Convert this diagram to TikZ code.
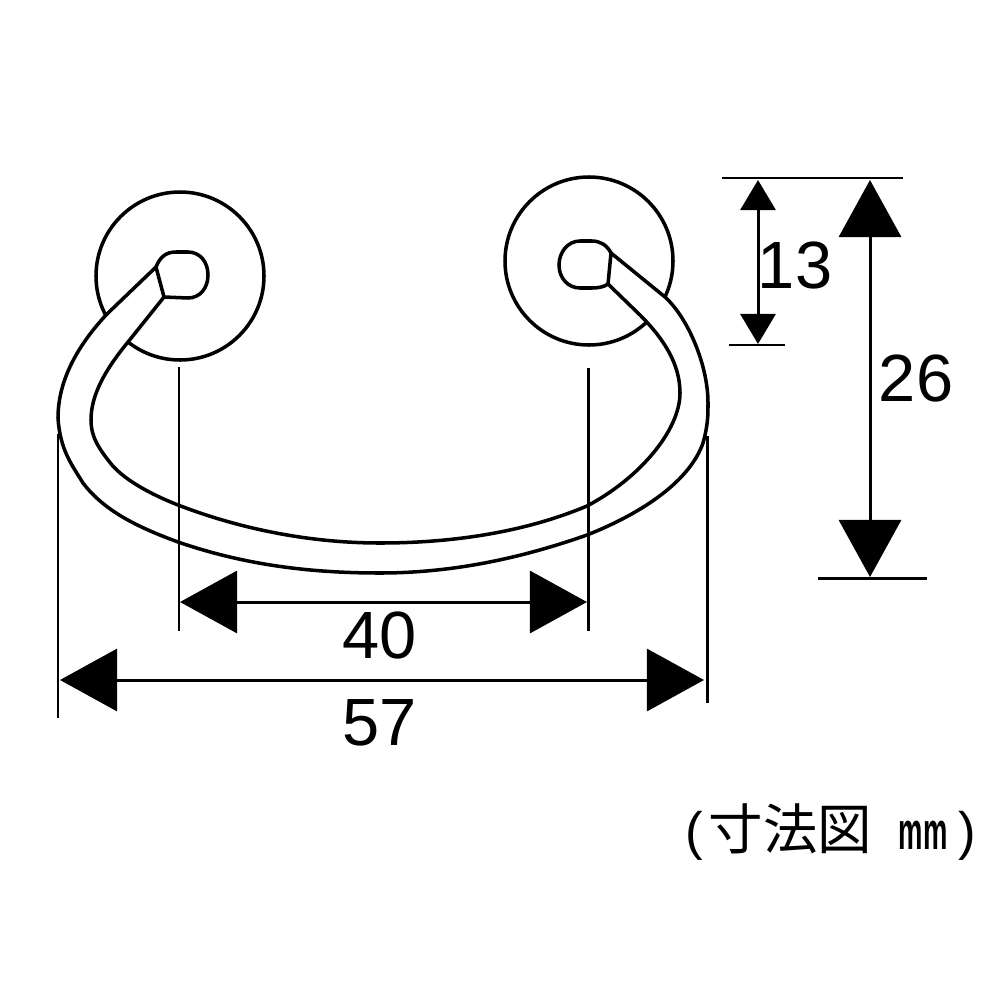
\documentclass[tikz,border=0pt]{standalone}
\usepackage{fontspec}
\usepackage{graphicx}
\usepackage{tikz}
\usetikzlibrary{arrows.meta}
\setmainfont{Liberation Sans}
\newfontfamily\cjk{Noto Sans CJK JP}
\tikzset{
    part/.style={line width=1pt,fill=white},
    extline/.style={line width=0.85pt},
    bigdim/.style={line width=0.85pt,{Triangle[length=0.57cm,width=0.62cm]}-{Triangle[length=0.57cm,width=0.62cm]}},
    smalldim/.style={line width=0.85pt,{Triangle[length=0.3cm,width=0.35cm]}-{Triangle[length=0.3cm,width=0.35cm]}},
    dimtext/.style={inner sep=0pt,font=\fontsize{19}{19}\selectfont}
}

\begin{document}
\begin{tikzpicture}[x=0.01cm,y=-0.01cm]
    \useasboundingbox (0,0) rectangle (1000,1000);
    % plates
    \draw[part] (180,276) circle (84);
    \draw[part] (589,261) circle (84);
    % handle
    \draw[part] (156,267) -- (107,314)
        .. controls (78,345) and (58,380) .. (58,418)
        .. controls (60,450) and (72,465) .. (83,483)
        .. controls (105,512) and (140,528) .. (178,542)
        .. controls (245,565) and (310,573) .. (380,573)
        .. controls (460,573) and (530,555) .. (587,535)
        .. controls (645,512) and (690,480) .. (703,443)
        .. controls (708,425) and (708,415) .. (708,403)
        .. controls (708,365) and (688,318) .. (665,297)
        -- (611,253) -- (608,284) -- (640,315)
        .. controls (665,340) and (680,365) .. (680,393)
        .. controls (680,430) and (640,478) .. (587,506)
        .. controls (530,530) and (460,543) .. (380,543)
        .. controls (305,543) and (235,527) .. (178,505)
        .. controls (150,494) and (125,480) .. (112,465)
        .. controls (100,450) and (91,438) .. (91,420)
        .. controls (91,395) and (105,370) .. (128,342)
        -- (164,297) -- cycle;
    % holes
    \draw[part,fill=none] (156,267) .. controls (160,257) and (166,252) .. (176,252) -- (188,252) .. controls (200,252) and (208,262) .. (208,275) .. controls (208,288) and (200,298) .. (188,298) -- (164,297);
    \draw[part,fill=none] (611,253) .. controls (607,245) and (600,241) .. (592,241) -- (580,241) .. controls (568,241) and (559,252) .. (559,265) .. controls (559,278) and (568,288) .. (580,288) -- (592,288) .. controls (598,288) and (604,287) .. (608,284);
    % extension lines
    \coordinate (extA) at (58,434);
    \coordinate (extB) at (58,718);
    \coordinate (extC) at (707,436);
    \coordinate (extD) at (707,703);
    \coordinate (extE) at (179,367);
    \coordinate (extF) at (179,631);
    \coordinate (extG) at (588,368);
    \coordinate (extH) at (588,631);
    \coordinate (topL) at (722,178);
    \coordinate (topR) at (903,178);
    \coordinate (midL) at (729,345);
    \coordinate (midR) at (785,345);
    \coordinate (botL) at (818,578);
    \coordinate (botR) at (927,578);
    \draw[extline] (extA) -- (extB);
    \draw[extline] (extC) -- (extD);
    \draw[extline] (extE) -- (extF);
    \draw[extline] (extG) -- (extH);
    \draw[extline] (topL) -- (topR);
    \draw[extline] (midL) -- (midR);
    \draw[extline] (botL) -- (botR);
    % dimensions
    \coordinate (wideA) at (60,680);
    \coordinate (wideB) at (704,680);
    \coordinate (holeA) at (180,602);
    \coordinate (holeB) at (587,602);
    \coordinate (tallA) at (870,180);
    \coordinate (tallB) at (870,577);
    \coordinate (halfA) at (758,180);
    \coordinate (halfB) at (758,344);
    \draw[bigdim] (wideA) -- (wideB);
    \draw[bigdim] (holeA) -- (holeB);
    \draw[bigdim] (tallA) -- (tallB);
    \draw[smalldim] (halfA) -- (halfB);
    \node[dimtext] (hole) at (380,635) {40};
    \node[dimtext] (wide) at (380,723) {57};
    \node[dimtext] (half) at (795,265) {13};
    \node[dimtext] (tall) at (916,378) {26};
    \node[inner sep=0pt,anchor=west,font=\fontsize{15}{15}\selectfont] (note) at (685,832) {(\hspace{1.6pt}{\cjk\fontsize{15.5}{15.5}\selectfont 寸法図}\hspace{7.5pt}\scalebox{0.52}[1]{\bfseries mm}\hspace{3pt})};
\end{tikzpicture}
\end{document}
